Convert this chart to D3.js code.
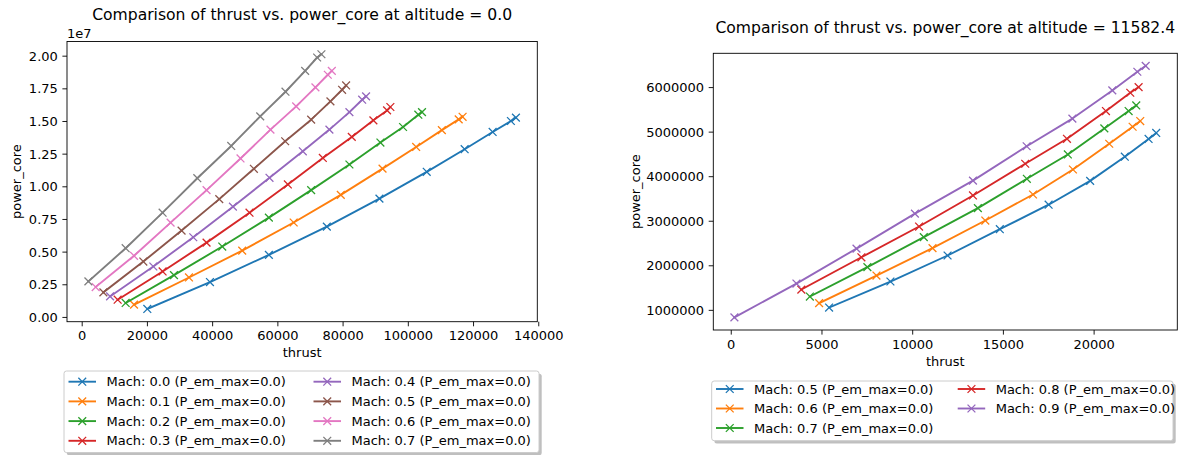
<!DOCTYPE html>
<html><head><meta charset="utf-8">
<script src="https://cdn.jsdelivr.net/npm/d3@7"></script>
<style>body{margin:0;background:#fff} svg{display:block;font-family:"DejaVu Sans",sans-serif}</style>
</head><body><svg id="c" width="1183" height="455"></svg>
<script>
// ---------- data ----------
const colors = ["#1f77b4","#ff7f0e","#2ca02c","#d62728","#9467bd","#8c564b","#e377c2","#7f7f7f"];
const altitudes = [0.0, 11582.4];
const machLeft = [0.0, 0.1, 0.2, 0.3, 0.4, 0.5, 0.6, 0.7];
const machRight = [0.5, 0.6, 0.7, 0.8, 0.9];
const pEmMax = 0.0;

// altitude 0.0 (power_core in units of 1e7)
const thrustA0M00 = [20120, 39330, 57400, 75170, 91300, 105800, 117430, 126010, 131610, 133150];
const powerA0M00  = [0.061, 0.267, 0.475, 0.691, 0.906, 1.111, 1.284, 1.416, 1.500, 1.526];
const thrustA0M01 = [16050, 32900, 49220, 65000, 79450, 92250, 102560, 110440, 115600, 116800];
const powerA0M01  = [0.094, 0.302, 0.508, 0.723, 0.934, 1.135, 1.301, 1.430, 1.512, 1.532];
const thrustA0M02 = [13480, 28300, 43100, 57400, 70360, 82090, 91600, 98540, 103220, 104350];
const powerA0M02  = [0.107, 0.320, 0.539, 0.760, 0.971, 1.167, 1.335, 1.454, 1.548, 1.568];
const thrustA0M03 = [11030, 24810, 38290, 51460, 63220, 73940, 82820, 89440, 93640, 94650];
const powerA0M03  = [0.132, 0.348, 0.569, 0.798, 1.014, 1.217, 1.378, 1.505, 1.581, 1.607];
const thrustA0M04 = [8700, 21960, 34210, 46370, 57590, 67810, 75960, 82090, 86000, 87200];
const powerA0M04  = [0.157, 0.386, 0.610, 0.844, 1.065, 1.268, 1.434, 1.568, 1.663, 1.688];
const thrustA0M05 = [6650, 18900, 30630, 42180, 52800, 62390, 70360, 76270, 79850, 81080];
const powerA0M05  = [0.188, 0.424, 0.661, 0.902, 1.134, 1.345, 1.510, 1.650, 1.739, 1.772];
const thrustA0M06 = [4290, 16050, 27260, 38290, 48700, 57890, 65760, 71670, 75470, 76700];
const powerA0M06  = [0.229, 0.468, 0.722, 0.971, 1.213, 1.434, 1.612, 1.757, 1.854, 1.884];
const thrustA0M07 = [2050, 13480, 24810, 35450, 45850, 54740, 62490, 68520, 72190, 73510];
const powerA0M07  = [0.272, 0.526, 0.798, 1.062, 1.309, 1.535, 1.724, 1.884, 1.986, 2.011];

// altitude 11582.4 (power_core in units of 1e6)
const thrustA1M05 = [5420, 8800, 11950, 14830, 17520, 19810, 21720, 23030, 23450];
const powerA1M05  = [1.052, 1.636, 2.220, 2.810, 3.360, 3.895, 4.437, 4.836, 4.970];
const thrustA1M06 = [4870, 8030, 11120, 14030, 16660, 18860, 20860, 22150, 22570];
const powerA1M06  = [1.150, 1.770, 2.386, 3.005, 3.589, 4.150, 4.728, 5.110, 5.238];
const thrustA1M07 = [4360, 7530, 10640, 13620, 16320, 18580, 20590, 21930, 22350];
const powerA1M07  = [1.299, 1.959, 2.632, 3.284, 3.942, 4.488, 5.072, 5.462, 5.588];
const thrustA1M08 = [3890, 7200, 10380, 13350, 16230, 18530, 20680, 22020, 22480];
const powerA1M08  = [1.455, 2.180, 2.870, 3.567, 4.279, 4.840, 5.462, 5.873, 6.000];
const thrustA1M09 = [200, 3620, 6930, 10150, 13350, 16310, 18830, 21030, 22410, 22870];
const powerA1M09  = [0.830, 1.590, 2.375, 3.160, 3.900, 4.672, 5.293, 5.925, 6.344, 6.476];

const xTicksLeft = [0, 20000, 40000, 60000, 80000, 100000, 120000, 140000];
const yTicksLeft = [0, 0.25e7, 0.5e7, 0.75e7, 1.0e7, 1.25e7, 1.5e7, 1.75e7, 2.0e7];
const xTicksRight = [0, 5000, 10000, 15000, 20000];
const yTicksRight = [1000000, 2000000, 3000000, 4000000, 5000000, 6000000];

const leftSeries = [
  [thrustA0M00, powerA0M00], [thrustA0M01, powerA0M01], [thrustA0M02, powerA0M02], [thrustA0M03, powerA0M03],
  [thrustA0M04, powerA0M04], [thrustA0M05, powerA0M05], [thrustA0M06, powerA0M06], [thrustA0M07, powerA0M07]
].map((s, i) => ({ mach: machLeft[i], color: colors[i], pts: s[0].map((t, j) => [t, s[1][j] * 1e7]) }));
const rightSeries = [
  [thrustA1M05, powerA1M05], [thrustA1M06, powerA1M06], [thrustA1M07, powerA1M07],
  [thrustA1M08, powerA1M08], [thrustA1M09, powerA1M09]
].map((s, i) => ({ mach: machRight[i], color: colors[i], pts: s[0].map((t, j) => [t, s[1][j] * 1e6]) }));

// ---------- drawing ----------
const svg = d3.select("#c");
const FS = 13, TL = 4.6, TP = 4.6;

function padDomain(vals) {
  const [a, b] = d3.extent(vals); const m = (b - a) * 0.05; return [a - m, b + m];
}

function panel(cfg) {
  const { box, series, xTicks, yTicks, yFmt, title, titleY, xLabelY, yLabelX, offsetText } = cfg;
  const all = series.flatMap(s => s.pts);
  const x = d3.scaleLinear().domain(padDomain(all.map(p => p[0]))).range([box.x0, box.x1]);
  const y = d3.scaleLinear().domain(padDomain(all.map(p => p[1]))).range([box.y1, box.y0]);
  const g = svg.append("g");

  // clip
  const cid = "clip" + Math.round(box.x0);
  svg.append("clipPath").attr("id", cid).append("rect")
    .attr("x", box.x0).attr("y", box.y0).attr("width", box.x1 - box.x0).attr("height", box.y1 - box.y0);

  const line = d3.line().x(d => x(d[0])).y(d => y(d[1]));
  const pg = g.append("g").attr("clip-path", `url(#${cid})`);
  series.forEach(s => {
    pg.append("path").attr("d", line(s.pts)).attr("fill", "none")
      .attr("stroke", s.color).attr("stroke-width", 1.9).attr("stroke-linejoin", "round").attr("stroke-linecap", "square");
    s.pts.forEach(p => {
      const cx = x(p[0]), cy = y(p[1]), r = 3.9;
      pg.append("path").attr("d", `M${cx - r},${cy - r}L${cx + r},${cy + r}M${cx - r},${cy + r}L${cx + r},${cy - r}`)
        .attr("stroke", s.color).attr("stroke-width", 1.3).attr("fill", "none");
    });
  });

  // axes
  const xa = d3.axisBottom(x).tickValues(xTicks).tickSize(TL).tickPadding(TP).tickFormat(d3.format("d"));
  const ya = d3.axisLeft(y).tickValues(yTicks).tickSize(TL).tickPadding(TP).tickFormat(yFmt);
  const gx = g.append("g").attr("transform", `translate(0,${box.y1})`).call(xa);
  const gy = g.append("g").attr("transform", `translate(${box.x0},0)`).call(ya);
  [gx, gy].forEach(a => {
    a.select(".domain").remove();
    a.selectAll("line").attr("stroke", "#000").attr("stroke-width", 0.9);
    a.selectAll("text").attr("font-size", FS).attr("fill", "#000").attr("font-family", "DejaVu Sans");
  });
  gx.selectAll("text").attr("dy", "0.72em");
  gy.selectAll("text").attr("dy", "0.35em");

  g.append("rect").attr("x", box.x0).attr("y", box.y0).attr("width", box.x1 - box.x0).attr("height", box.y1 - box.y0)
    .attr("fill", "none").attr("stroke", "#000").attr("stroke-width", 0.9);

  g.append("text").attr("x", (box.x0 + box.x1) / 2).attr("y", titleY).attr("text-anchor", "middle")
    .attr("font-size", 15.6).attr("fill", "#000").text(title);
  g.append("text").attr("x", (box.x0 + box.x1) / 2).attr("y", xLabelY).attr("text-anchor", "middle")
    .attr("font-size", FS).attr("fill", "#000").text("thrust");
  g.append("text").attr("transform", `translate(${yLabelX},${(box.y0 + box.y1) / 2}) rotate(-90)`)
    .attr("text-anchor", "middle").attr("font-size", FS).attr("fill", "#000").text("power_core");
  if (offsetText) g.append("text").attr("x", box.x0).attr("y", box.y0 - 4).attr("font-size", FS).attr("fill", "#000").text(offsetText);
}

function legend(cfg) {
  const { x0, y0, w, h, series, rows, colX, rowY } = cfg;
  const g = svg.append("g");
  g.append("rect").attr("x", x0 + 2.7).attr("y", y0 + 2.7).attr("width", w).attr("height", h).attr("rx", 2.5)
    .attr("fill", "#7f7f7f").attr("fill-opacity", 0.5);
  g.append("rect").attr("x", x0).attr("y", y0).attr("width", w).attr("height", h).attr("rx", 2.5)
    .attr("fill", "#fff").attr("stroke", "#cccccc").attr("stroke-width", 1);
  series.forEach((s, i) => {
    const c = Math.floor(i / rows), r = i % rows;
    const hx = colX[c], yy = rowY[r];
    g.append("line").attr("x1", hx).attr("x2", hx + 27.5).attr("y1", yy).attr("y2", yy)
      .attr("stroke", s.color).attr("stroke-width", 1.9);
    const cx = hx + 13.75, rr = 3.9;
    g.append("path").attr("d", `M${cx - rr},${yy - rr}L${cx + rr},${yy + rr}M${cx - rr},${yy + rr}L${cx + rr},${yy - rr}`)
      .attr("stroke", s.color).attr("stroke-width", 1.3);
    g.append("text").attr("x", hx + 38).attr("y", yy).attr("dy", "0.35em").attr("font-size", FS).attr("fill", "#000")
      .text(`Mach: ${s.mach.toFixed(1)} (P_em_max=${pEmMax.toFixed(1)})`);
  });
}

panel({
  box: { x0: 67, x1: 537.3, y0: 41.5, y1: 321.7 }, series: leftSeries,
  xTicks: xTicksLeft, yTicks: yTicksLeft, yFmt: d => (d / 1e7).toFixed(2),
  title: `Comparison of thrust vs. power_core at altitude = ${altitudes[0].toFixed(1)}`,
  titleY: 19.5, xLabelY: 357, yLabelX: 21, offsetText: "1e7"
});
panel({
  box: { x0: 713.3, x1: 1177.3, y0: 53.3, y1: 330 }, series: rightSeries,
  xTicks: xTicksRight, yTicks: yTicksRight, yFmt: d3.format("d"),
  title: `Comparison of thrust vs. power_core at altitude = ${altitudes[1].toFixed(1)}`,
  titleY: 32.5, xLabelY: 366, yLabelX: 640, offsetText: null
});

legend({ x0: 64, y0: 371, w: 475, h: 81.5, series: leftSeries, rows: 4,
  colX: [68.5, 313.5], rowY: [381.7, 401.4, 421.1, 440.8] });
legend({ x0: 711.7, y0: 381, w: 461.3, h: 59.7, series: rightSeries, rows: 3,
  colX: [716, 957.7], rowY: [389, 408.5, 428] });
</script></body></html>
